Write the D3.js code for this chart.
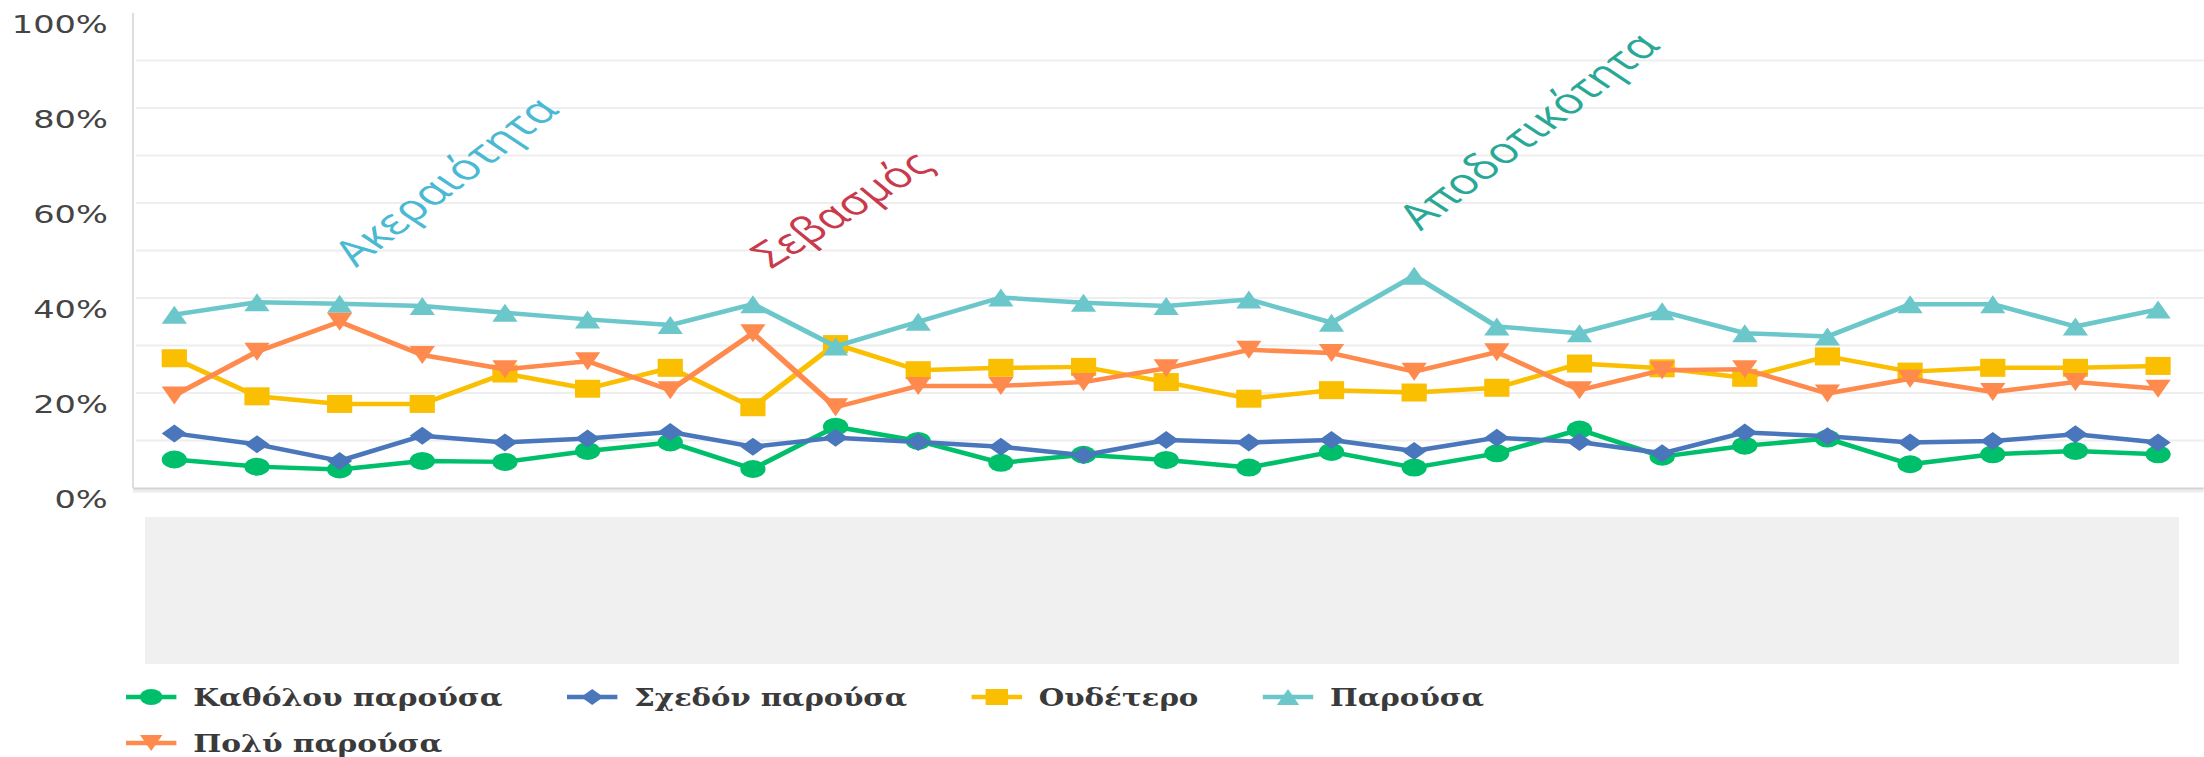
<!DOCTYPE html>
<html>
<head>
<meta charset="utf-8">
<script src="https://cdn.jsdelivr.net/npm/d3@7"></script>
<style>
  body { margin: 0; background: #fff; }
  svg { display: block; }
</style>
</head>
<body>
<svg id="chart" width="2204" height="757"></svg>
<script>
// 25 statements, the x labels are not shown in the original (grey box)
const categories = ['1', '2', '3', '4', '5', '6', '7', '8', '9', '10', '11', '12', '13',
    '14', '15', '16', '17', '18', '19', '20', '21', '22', '23', '24', '25'];

const seriesNames = ['Καθόλου παρούσα', 'Σχεδόν παρούσα', 'Ουδέτερο', 'Παρούσα', 'Πολύ παρούσα'];

const katholou = [6.0, 4.5, 3.9, 5.7, 5.5, 7.8, 9.6, 4.0, 12.9, 9.9, 5.3, 7.0, 5.9,
    4.3, 7.6, 4.3, 7.3, 12.3, 6.6, 8.9, 10.4, 5.0, 7.1, 7.8, 7.1];
const schedon = [11.5, 9.2, 5.7, 11.0, 9.6, 10.4, 11.8, 8.7, 10.6, 9.7, 8.7, 6.9, 10.1,
    9.6, 10.1, 7.8, 10.6, 9.7, 7.3, 11.7, 10.9, 9.6, 9.9, 11.3, 9.6];
const oudetero = [27.3, 19.3, 17.7, 17.7, 24.1, 20.9, 25.3, 17.0, 30.3, 24.8, 25.3, 25.5, 22.3,
    18.8, 20.6, 20.1, 21.1, 26.2, 25.2, 23.2, 27.7, 24.5, 25.3, 25.3, 25.7];
const parousa = [36.5, 39.1, 38.8, 38.3, 36.9, 35.5, 34.3, 38.7, 29.8, 35.0, 40.1, 39.0, 38.3,
    39.7, 34.8, 44.7, 34.0, 32.6, 37.2, 32.6, 31.9, 38.7, 38.7, 34.0, 37.6];
const poly = [19.5, 28.7, 35.0, 28.0, 25.0, 26.7, 20.6, 32.6, 17.0, 21.5, 21.5, 22.3, 25.2,
    29.1, 28.4, 24.5, 28.6, 20.6, 24.8, 25.0, 19.9, 23.0, 20.2, 22.3, 20.9];

const yTickValues = [0, 20, 40, 60, 80, 100];
const yGridValues = [10, 20, 30, 40, 50, 60, 70, 80, 90];

// annotations: label, category position (fractional index), value
const annotationLabels = ['Ακεραιότητα', 'Σεβασμός', 'Αποδοτικότητα'];
const annotationIndex = [2.2, 7.22, 15.08];
const annotationValue = [46.3, 46.0, 54.0];

const seriesColors = ['#00bf6b', '#4a77bb', '#f9bf00', '#6cc7cb', '#ff8a4d'];
const seriesSymbols = ['circle', 'diamond', 'square', 'triangle', 'triangle-down'];
const annotationColors = ['#4ab9d4', '#c93a4d', '#2aa897'];

// the original screenshot is stretched horizontally, so draw in narrow
// coordinates and scale the whole thing in x
const SX = 1.4;

const svg = d3.select('#chart');
const root = svg.append('g').attr('transform', `scale(${SX},1)`);

const x = d3.scalePoint().domain(categories).range([95, 1571]).padding(0.5);
const y = d3.scaleLinear().domain([0, 100]).range([488, 13]);
const xIdx = d3.scaleLinear().domain([0, categories.length - 1])
    .range([x(categories[0]), x(categories[categories.length - 1])]);

// grey empty x-label area
root.append('rect')
    .attr('x', 103.6).attr('y', 517)
    .attr('width', 1452.8).attr('height', 147)
    .attr('fill', '#f0f0f0');

// grid
root.append('g').selectAll('line')
    .data(yGridValues)
    .enter().append('line')
    .attr('x1', 97).attr('x2', 1574)
    .attr('y1', d => y(d)).attr('y2', d => y(d))
    .attr('stroke', '#eeeeee')
    .attr('stroke-width', 2);

// y axis line
root.append('line')
    .attr('x1', 95).attr('x2', 95)
    .attr('y1', 13).attr('y2', 488)
    .attr('stroke', '#dedede')
    .attr('stroke-width', 1.5);

// bottom axis line with its soft shadow
root.append('line')
    .attr('x1', 95).attr('x2', 1574)
    .attr('y1', 491).attr('y2', 491)
    .attr('stroke', '#ececec').attr('stroke-width', 3);
root.append('line')
    .attr('x1', 95).attr('x2', 1574)
    .attr('y1', 488.5).attr('y2', 488.5)
    .attr('stroke', '#d4d4d4').attr('stroke-width', 2);

// y labels
root.append('g').selectAll('text')
    .data(yTickValues)
    .enter().append('text')
    .attr('x', 77)
    .attr('y', d => y(d) + 20)
    .attr('text-anchor', 'end')
    .attr('font-family', 'DejaVu Sans')
    .attr('font-size', 24)
    .attr('fill', '#444')
    .text(d => d + '%');

// annotations
const annotationLengths = [214, 155, 252];
const annotationAngles = [-47, -41, -47];
annotationLabels.forEach((label, i) => {
    root.append('text')
        .attr('transform', `translate(${xIdx(annotationIndex[i])},${y(annotationValue[i])}) rotate(${annotationAngles[i]})`)
        .attr('font-family', 'Open Sans')
        .attr('font-size', 36)
        .attr('fill', annotationColors[i])
        .attr('textLength', annotationLengths[i])
        .attr('lengthAdjust', 'spacingAndGlyphs')
        .text(label);
});

// marker path in the Highcharts style
function symbolPath(type, cx, cy, r) {
    const a = cx - r, b = cy - r, w = 2 * r;
    switch (type) {
        case 'circle':
            return `M${cx - r},${cy} a${r},${r} 0 1,0 ${w},0 a${r},${r} 0 1,0 ${-w},0 Z`;
        case 'diamond':
            return `M${cx},${b} L${a + w},${cy} L${cx},${b + w} L${a},${cy} Z`;
        case 'square':
            return `M${a},${b} h${w} v${w} h${-w} Z`;
        case 'triangle':
            return `M${cx},${b} L${a + w},${b + w} L${a},${b + w} Z`;
        case 'triangle-down':
            return `M${a},${b} L${a + w},${b} L${cx},${b + w} Z`;
    }
}

const allSeries = [katholou, schedon, oudetero, parousa, poly];
const line = d3.line()
    .x((d, i) => x(categories[i]))
    .y(d => y(d));

const seriesGroup = root.append('g');
allSeries.forEach((values, s) => {
    const g = seriesGroup.append('g');
    g.append('path')
        .datum(values)
        .attr('d', line)
        .attr('fill', 'none')
        .attr('stroke', seriesColors[s])
        .attr('stroke-width', 4.5)
        .attr('stroke-linejoin', 'round');
    g.selectAll('path.marker')
        .data(values)
        .enter().append('path')
        .attr('class', 'marker')
        .attr('d', (d, i) => symbolPath(seriesSymbols[s], x(categories[i]), y(d), 9))
        .attr('fill', seriesColors[s]);
});

// legend, flows left to right and wraps
const legendTextLengths = [221, 195, 114, 110, 178];
const legendRows = [[0, 1, 2, 3], [4]];
const legendRowY = [697, 743];
legendRows.forEach((row, r) => {
    let cx = 108;
    row.forEach(s => {
        const item = root.append('g');
        const cy = legendRowY[r];
        item.append('line')
            .attr('x1', cx - 18).attr('x2', cx + 18)
            .attr('y1', cy).attr('y2', cy)
            .attr('stroke', seriesColors[s])
            .attr('stroke-width', 4.5);
        item.append('path')
            .attr('d', symbolPath(seriesSymbols[s], cx, cy, 8))
            .attr('fill', seriesColors[s]);
        item.append('text')
            .attr('x', cx + 30)
            .attr('y', cy + 9)
            .attr('font-family', 'DejaVu Serif')
            .attr('font-weight', 'bold')
            .attr('font-size', 25)
            .attr('fill', '#3a3a3a')
            .attr('textLength', legendTextLengths[s])
            .attr('lengthAdjust', 'spacingAndGlyphs')
            .text(seriesNames[s]);
        cx += 30 + legendTextLengths[s] + 64;
    });
});
</script>
</body>
</html>
